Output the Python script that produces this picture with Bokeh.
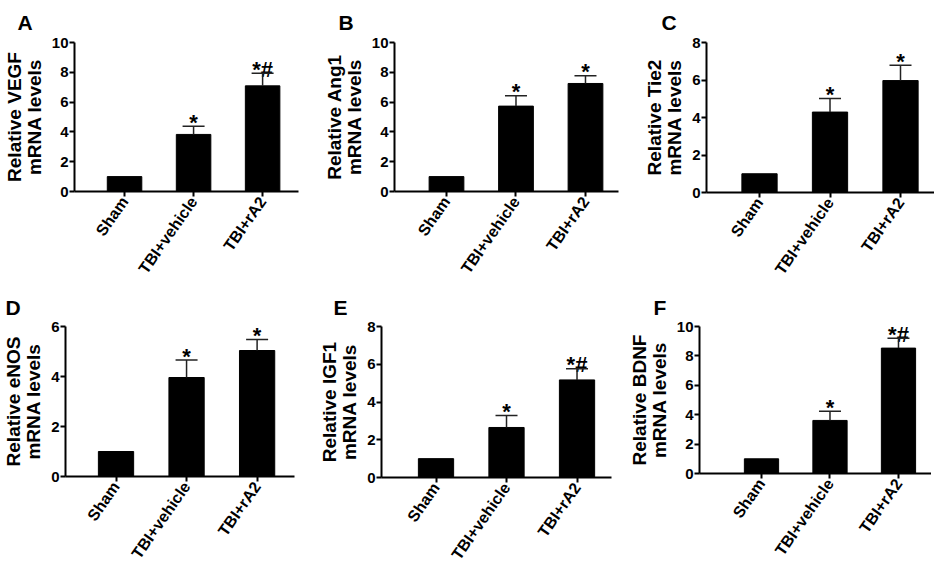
import math
from bokeh.plotting import figure
from bokeh.models import ColumnDataSource, FixedTicker, Whisker, TeeHead, Range1d
from bokeh.layouts import column, row
from bokeh.embed import file_html
from bokeh.resources import INLINE
from bokeh.core.properties import value

groups = ["Sham", "TBI+vehicle", "TBI+rA2"]
letters = ["A", "B", "C", "D", "E", "F"]
genes = ["VEGF", "Ang1", "Tie2", "eNOS", "IGF1", "BDNF"]

vegf_mean = [1.0, 3.83, 7.09]
vegf_upper = [1.0, 4.38, 7.94]
ang1_mean = [1.0, 5.73, 7.25]
ang1_upper = [1.0, 6.42, 7.77]
tie2_mean = [1.0, 4.29, 5.97]
tie2_upper = [1.0, 5.02, 6.79]
enos_mean = [1.0, 3.96, 5.04]
enos_upper = [1.0, 4.66, 5.48]
igf1_mean = [1.0, 2.65, 5.17]
igf1_upper = [1.0, 3.28, 5.76]
bdnf_mean = [1.0, 3.61, 8.53]
bdnf_upper = [1.0, 4.24, 9.20]

vegf_sig = ["", "*", "*#"]
ang1_sig = ["", "*", "*"]
tie2_sig = ["", "*", "*"]
enos_sig = ["", "*", "*"]
igf1_sig = ["", "*", "*#"]
bdnf_sig = ["", "*", "*#"]

y_max = [10, 10, 8, 6, 8, 10]
y_step = 2

means = [vegf_mean, ang1_mean, tie2_mean, enos_mean, igf1_mean, bdnf_mean]
uppers = [vegf_upper, ang1_upper, tie2_upper, enos_upper, igf1_upper, bdnf_upper]
sigs = [vegf_sig, ang1_sig, tie2_sig, enos_sig, igf1_sig, bdnf_sig]

# (frame_w, frame_h, border_left, right, top, bottom, x_start, x_end, letter_x, title_standoff)
layout = [
    (224, 149, 67, 5, 42, 90, -0.725, 2.52, 10, 17),
    (224, 149, 91, 5, 42, 90, -0.748, 2.475, 35, 17),
    (232, 150, 83, 0, 42, 89, -0.752, 2.539, 38, 17),
    (229, 150, 63, 5, 41, 90, -0.716, 2.53, 3, 16),
    (230, 151, 82, 6, 41, 89, -0.773, 2.489, 34, 16),
    (232, 147, 82, 0, 41, 93, -0.905, 2.482, 36, 16),
]

FONT = "Liberation Sans"
figs = []
for i in range(6):
    fw, fh, mbl, mbr, mbt, mbb, xs, xe, lx, tso = layout[i]
    p = figure(frame_width=fw, frame_height=fh, output_backend="svg", toolbar_location=None,
               x_range=Range1d(xs, xe), y_range=Range1d(0, y_max[i]),
               min_border_left=mbl, min_border_right=mbr,
               min_border_top=mbt, min_border_bottom=mbb)
    p.outline_line_color = None
    p.grid.visible = False
    p.background_fill_color = "white"
    p.border_fill_color = "white"

    xs_idx = [0, 1, 2]
    src = ColumnDataSource(dict(x=xs_idx, top=means[i], upper=uppers[i], sig=sigs[i]))
    p.vbar(x="x", top="top", width=0.5, source=src, fill_color="black", line_color="black")

    esrc = ColumnDataSource(dict(x=xs_idx[1:], top=means[i][1:], upper=uppers[i][1:],
                                 sig=sigs[i][1:]))
    w = Whisker(base="x", lower="top", upper="upper", source=esrc, lower_head=None,
                upper_head=TeeHead(size=22, line_width=1.5, line_color="#222222"),
                line_width=1.5, line_color="#222222", level="glyph")
    p.add_layout(w)
    p.text(x="x", y="upper", text="sig", source=esrc, text_align="center",
           text_baseline="alphabetic", y_offset=-4, text_font=value(FONT),
           text_font_style="bold", text_font_size="22px", text_color="black")

    # axes
    p.xaxis.ticker = FixedTicker(ticks=xs_idx)
    p.xaxis.major_label_overrides = {k: groups[k] for k in xs_idx}
    p.xaxis.major_label_orientation = math.radians(55)
    p.yaxis.ticker = FixedTicker(ticks=list(range(0, y_max[i] + 1, y_step)))
    for ax in (p.xaxis, p.yaxis):
        ax.axis_line_width = 2
        ax.axis_line_color = "black"
        ax.major_tick_line_width = 2
        ax.major_tick_line_color = "black"
        ax.major_tick_out = 5
        ax.major_tick_in = 0
        ax.minor_tick_line_color = None
        ax.major_label_text_font = FONT
        ax.major_label_text_font_style = "bold"
        ax.major_label_text_color = "black"
    p.xaxis.major_label_text_font_size = "16px"
    p.xaxis.major_label_standoff = 2
    p.yaxis.major_label_text_font_size = "15px"
    p.yaxis.major_label_standoff = 1
    p.yaxis.axis_label = "Relative " + genes[i] + "\nmRNA levels"
    p.yaxis.axis_label_text_font = FONT
    p.yaxis.axis_label_text_font_style = "bold"
    p.yaxis.axis_label_text_font_size = "19px"
    p.yaxis.axis_label_text_line_height = 0.95
    p.yaxis.axis_label_text_color = "black"
    p.yaxis.axis_label_standoff = 4

    # panel letter
    p.title.text = letters[i]
    p.title.align = "left"
    p.title.offset = lx - mbl
    p.title.standoff = tso
    p.title.text_font = FONT
    p.title.text_font_style = "bold"
    p.title.text_font_size = "21px"
    p.title.text_color = "black"
    figs.append(p)

layout_obj = column(row(figs[0], figs[1], figs[2]), row(figs[3], figs[4], figs[5]))
open("out.html", "w").write(file_html(layout_obj, INLINE))
